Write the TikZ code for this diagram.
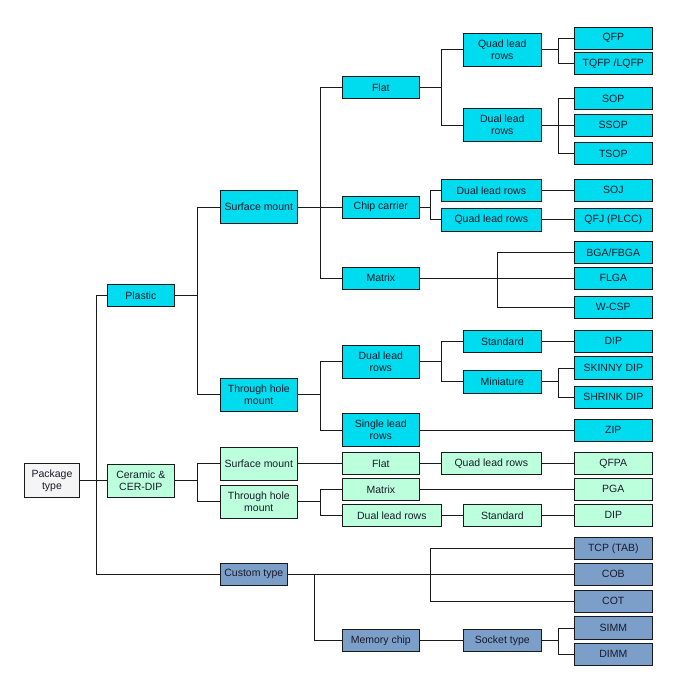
\documentclass[tikz,border=0pt]{standalone}
\usepackage{fontspec}
\setmainfont{Liberation Sans}
\definecolor{cyb}{HTML}{00DCEF}
\definecolor{mint}{HTML}{BBFFDD}
\definecolor{steel}{HTML}{7B9FC9}
\definecolor{pale}{HTML}{F5F5F5}
\definecolor{ink}{HTML}{1A1A2A}
\definecolor{edge}{HTML}{1A1A1A}
\begin{document}
\begin{tikzpicture}[x=1pt,y=-1pt,
  bx/.style={draw=edge,line width=0.9pt,inner sep=0pt,align=center,text=ink,
    font=\fontsize{10.5}{12}\selectfont},
  cy/.style={bx,fill=cyb},
  mt/.style={bx,fill=mint},
  sb/.style={bx,fill=steel},
  pl/.style={bx,fill=pale},
  bw/.style={minimum width=#1pt},
  bh/.style={minimum height=#1pt},
  leaf/.style={bw=78,bh=22},
  ln/.style={draw=edge,line width=0.9pt}]
\useasboundingbox (0,0) rectangle (673,690);
% bus coordinates
\coordinate (b1) at (96.3,0);
\coordinate (b2) at (197.3,0);
\coordinate (b3) at (320.3,0);
\coordinate (b4) at (441.3,0);
\coordinate (b5) at (558.7,0);
\coordinate (b6) at (430.3,0);
\coordinate (b7) at (497.3,0);
\coordinate (b8) at (314.3,0);
% level 0-1
\node[pl,bw=55.4,bh=34] (pkg) at (52,480.5) {Package\\type};
\node[cy,bw=67,bh=22] (plastic) at (140.8,295.3) {Plastic};
\node[mt,bw=67,bh=33] (ceramic) at (140.8,480.5) {Ceramic \&\\CER-DIP};
\node[sb,bw=67,bh=22] (custom) at (253.8,574.3) {Custom type};
% level 2
\node[cy,bw=77,bh=33] (psm) at (258.8,207) {Surface mount};
\node[cy,bw=77,bh=33] (pth) at (258.8,394.8) {Through hole\\mount};
\node[mt,bw=77,bh=33] (csm) at (258.8,463.5) {Surface mount};
\node[mt,bw=77,bh=33] (cth) at (258.8,501.8) {Through hole\\mount};
% level 3
\node[cy,bw=77,bh=22] (flat) at (380.8,87.3) {Flat};
\node[cy,bw=77,bh=22] (chip) at (380.8,207) {Chip carrier};
\node[cy,bw=77,bh=22] (pmatrix) at (380.8,278.2) {Matrix};
\node[cy,bw=77,bh=33] (pdual) at (380.8,361.8) {Dual lead\\rows};
\node[cy,bw=77,bh=33] (psingle) at (380.8,430.2) {Single lead\\rows};
\node[mt,bw=77,bh=22] (cflat) at (380.8,463.5) {Flat};
\node[mt,bw=77,bh=22] (cmatrix) at (380.8,489.3) {Matrix};
\node[mt,bw=99,bh=22] (cdual) at (391.8,515.3) {Dual lead rows};
\node[sb,bw=77,bh=22] (mem) at (380.8,640.3) {Memory chip};
% level 4
\node[cy,bw=78,bh=33] (quad) at (502.3,49.8) {Quad lead\\rows};
\node[cy,bw=78,bh=33] (dual) at (502.3,125) {Dual lead\\rows};
\node[cy,bw=100,bh=22.7] (ccdual) at (491.3,190.3) {Dual lead rows};
\node[cy,bw=100,bh=23] (ccquad) at (491.3,219.8) {Quad lead rows};
\node[cy,bw=78,bh=22] (std) at (502.3,341.3) {Standard};
\node[cy,bw=78,bh=22.7] (mini) at (502.3,381.7) {Miniature};
\node[mt,bw=100,bh=22] (cquad) at (491.3,463.5) {Quad lead rows};
\node[mt,bw=78,bh=22] (cstd) at (502.3,515.3) {Standard};
\node[sb,bw=78,bh=22] (socket) at (502.3,640.3) {Socket type};
% leaves
\node[cy,leaf] (qfp) at (613.3,38.3) {QFP};
\node[cy,leaf] (tqfp) at (613.3,63.2) {TQFP /LQFP};
\node[cy,leaf] (sop) at (613.3,98.5) {SOP};
\node[cy,leaf] (ssop) at (613.3,125) {SSOP};
\node[cy,leaf] (tsop) at (613.3,153.5) {TSOP};
\node[cy,leaf] (soj) at (613.3,190.3) {SOJ};
\node[cy,leaf,bh=23] (qfj) at (613.3,219.8) {QFJ (PLCC)};
\node[cy,leaf] (bga) at (613.3,252.3) {BGA/FBGA};
\node[cy,leaf] (flga) at (613.3,278.2) {FLGA};
\node[cy,leaf] (wcsp) at (613.3,307) {W-CSP};
\node[cy,leaf] (dip) at (613.3,341.3) {DIP};
\node[cy,leaf,bh=23] (skinny) at (613.3,368) {SKINNY DIP};
\node[cy,leaf] (shrink) at (613.3,397.3) {SHRINK DIP};
\node[cy,leaf] (zip) at (613.3,430.2) {ZIP};
\node[mt,leaf] (qfpa) at (613.3,463.5) {QFPA};
\node[mt,leaf] (pga) at (613.3,489.3) {PGA};
\node[mt,leaf] (cdip) at (613.3,515.3) {DIP};
\node[sb,leaf] (tcp) at (613.3,548.3) {TCP (TAB)};
\node[sb,leaf] (cob) at (613.3,574.3) {COB};
\node[sb,leaf] (cot) at (613.3,601.3) {COT};
\node[sb,leaf,bh=22.6] (simm) at (613.3,628) {SIMM};
\node[sb,leaf] (dimm) at (613.3,654.3) {DIMM};
% connectors
\path[ln] (plastic.west) -- (plastic.west -| b1) |- (custom.west);
\path[ln] (pkg.east) -- (ceramic.west);
\path[ln] (psm.west) -- (psm.west -| b2) |- (pth.west);
\path[ln] (plastic.east) -- (plastic.east -| b2);
\path[ln] (csm.west) -- (csm.west -| b2) |- (cth.west);
\path[ln] (ceramic.east) -- (ceramic.east -| b2);
\path[ln] (flat.west) -- (flat.west -| b3) |- (pmatrix.west);
\path[ln] (psm.east) -- (chip.west);
\path[ln] (pdual.west) -- (pdual.west -| b3) |- (psingle.west);
\path[ln] (pth.east) -- (pth.east -| b3);
\path[ln] (csm.east) -- (cflat.west);
\path[ln] (cmatrix.west) -- (cmatrix.west -| b3) |- (cdual.west);
\path[ln] (cth.east) -- (cth.east -| b3);
\path[ln] (cflat.east) -- (cquad.west);
\path[ln] (cquad.east) -- (qfpa.west);
\path[ln] (cmatrix.east) -- (pga.west);
\path[ln] (cdual.east) -- (cstd.west);
\path[ln] (cstd.east) -- (cdip.west);
\path[ln] (quad.west) -- (quad.west -| b4) |- (dual.west);
\path[ln] (flat.east) -- (flat.east -| b4);
\path[ln] (qfp.west) -- (qfp.west -| b5) |- (tqfp.west);
\path[ln] (quad.east) -- (quad.east -| b5);
\path[ln] (sop.west) -- (sop.west -| b5) |- (tsop.west);
\path[ln] (dual.east) -- (ssop.west);
\path[ln] (ccdual.west) -- (ccdual.west -| b6) |- (ccquad.west);
\path[ln] (chip.east) -- (chip.east -| b6);
\path[ln] (ccdual.east) -- (soj.west);
\path[ln] (ccquad.east) -- (qfj.west);
\path[ln] (bga.west) -- (bga.west -| b7) |- (wcsp.west);
\path[ln] (pmatrix.east) -- (flga.west);
\path[ln] (std.west) -- (std.west -| b4) |- (mini.west);
\path[ln] (pdual.east) -- (pdual.east -| b4);
\path[ln] (std.east) -- (dip.west);
\path[ln] (skinny.west) -- (skinny.west -| b5) |- (shrink.west);
\path[ln] (mini.east) -- (mini.east -| b5);
\path[ln] (psingle.east) -- (zip.west);
\path[ln] (custom.east) -- (cob.west);
\path[ln] (tcp.west) -- (tcp.west -| b6) |- (cot.west);
\path[ln] (custom.east -| b8) |- (mem.west);
\path[ln] (mem.east) -- (socket.west);
\path[ln] (simm.west) -- (simm.west -| b5) |- (dimm.west);
\path[ln] (socket.east) -- (socket.east -| b5);
\end{tikzpicture}
\end{document}
